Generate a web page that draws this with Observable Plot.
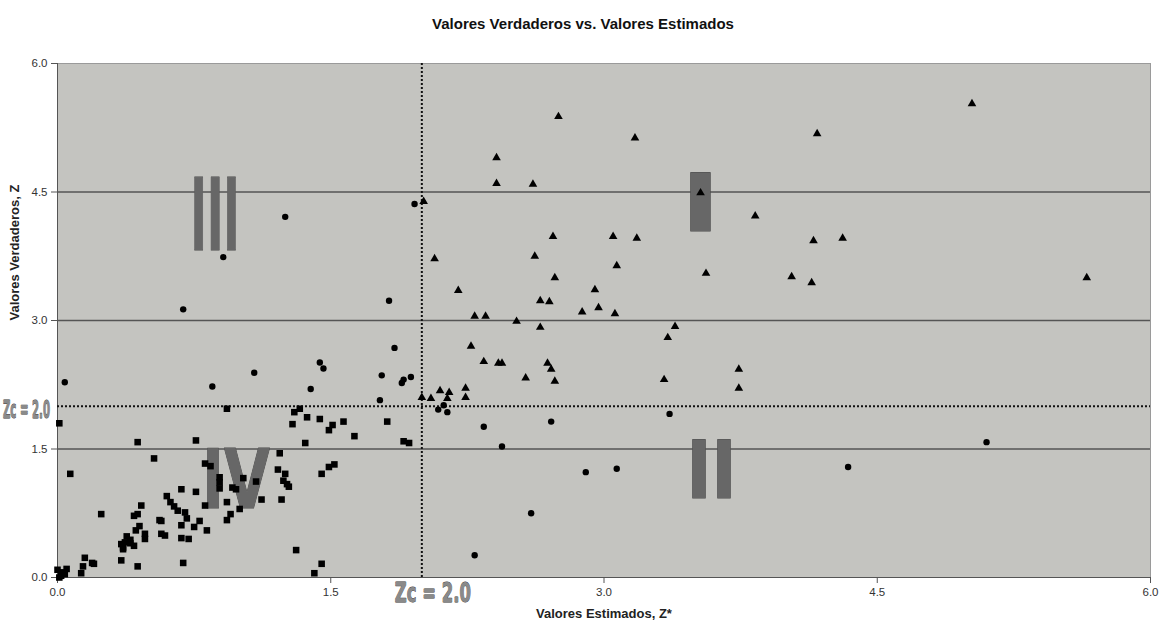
<!DOCTYPE html>
<html>
<head>
<meta charset="utf-8">
<script src="https://cdn.jsdelivr.net/npm/d3@7"></script>
<script src="https://cdn.jsdelivr.net/npm/@observablehq/plot@0.6"></script>
<style>
  body { margin: 0; background: #ffffff; }
  #chart svg { overflow: visible; display: block; }
</style>
</head>
<body>
<div id="chart"></div>
<script>
// ---------- data ----------
const title = "Valores Verdaderos vs. Valores Estimados";
const xTitle = "Valores Estimados, Z*";
const yTitle = "Valores Verdaderos, Z";
const xTicks = [0, 1.5, 3.0, 4.5, 6.0];
const yTicks = [0, 1.5, 3.0, 4.5, 6.0];
const gridY = [1.5, 3.0, 4.5];
const cutoff = 2.0;
const cutoffLabel = "Zc = 2.0";

// squares (series 1)
const squareX = [0.01,0.44,0.76,0.53,0.07,0.24,0.68,0.76,0.60,0.62,0.64,0.66,0.46,0.42,0.44,0.70,0.71,0.56,0.57,0.78,0.68,0.75,0.82,0.45,0.43,0.48,0.48,0.57,0.59,0.68,0.72,0.38,0.40,0.37,0.36,0.35,0.36,0.42,0.40,0.35,0.44,0.69,0.15,0.14,0.13,0.19,0.20,0.00,0.03,0.02,0.05,0.04,0.01,0.81,0.84,0.89,0.89,0.89,0.81,0.93,0.93,0.93,1.30,1.33,1.37,1.29,1.44,1.51,1.49,1.57,1.63,1.36,1.81,1.90,1.93,1.22,1.21,1.25,1.24,1.26,1.27,1.45,1.49,1.52,1.02,1.09,0.96,0.98,1.12,1.23,1.00,0.95,1.31,1.45,1.41];
const squareY = [1.80,1.58,1.60,1.39,1.21,0.74,1.03,1.00,0.95,0.88,0.83,0.78,0.84,0.72,0.74,0.76,0.69,0.67,0.66,0.66,0.61,0.59,0.55,0.60,0.55,0.51,0.45,0.51,0.49,0.46,0.45,0.48,0.44,0.41,0.35,0.39,0.33,0.37,0.40,0.20,0.13,0.17,0.23,0.13,0.05,0.17,0.16,0.09,0.06,0.02,0.10,0.04,0.00,1.33,1.30,1.17,1.11,1.04,0.84,0.88,0.67,1.97,1.93,1.97,1.87,1.79,1.85,1.78,1.72,1.82,1.65,1.57,1.82,1.59,1.57,1.45,1.26,1.21,1.13,1.09,1.06,1.21,1.29,1.32,1.16,1.12,1.05,1.03,0.91,0.91,0.80,0.74,0.32,0.16,0.05];

// circles (series 2)
const circleX = [0.04,0.69,0.91,1.25,0.85,1.08,1.39,1.44,1.46,1.82,1.85,1.78,1.77,1.89,1.90,1.94,1.96,2.09,2.14,2.12,2.34,2.71,2.44,3.36,2.90,3.07,2.60,2.29,4.34,5.10];
const circleY = [2.28,3.13,3.74,4.21,2.23,2.39,2.20,2.51,2.44,3.23,2.68,2.36,2.07,2.27,2.31,2.34,4.36,1.96,1.93,2.01,1.76,1.82,1.53,1.91,1.23,1.27,0.75,0.26,1.29,1.58];

// triangles (series 3)
const triangleX = [2.75,5.02,4.17,3.17,2.41,2.41,2.61,3.53,2.01,3.83,2.72,3.05,3.18,4.15,4.31,2.07,2.62,3.07,2.73,3.56,4.03,4.14,5.65,2.20,2.95,2.65,2.70,2.97,2.88,3.06,2.29,2.35,2.52,2.65,3.39,3.35,2.27,2.34,2.42,2.44,2.69,2.71,3.74,2.57,2.73,3.33,3.74,2.10,2.15,2.24,2.24,2.00,2.05,2.14];
const triangleY = [5.38,5.53,5.18,5.13,4.90,4.60,4.59,4.49,4.39,4.22,3.98,3.98,3.96,3.93,3.96,3.72,3.75,3.64,3.50,3.55,3.51,3.44,3.50,3.35,3.36,3.23,3.22,3.15,3.10,3.08,3.05,3.05,2.99,2.92,2.93,2.80,2.70,2.52,2.50,2.50,2.50,2.43,2.43,2.33,2.29,2.31,2.21,2.18,2.16,2.21,2.10,2.10,2.09,2.09];

// quadrant annotations (anchored in data units: centre x, baseline y)
const quadrantLabels = ["I", "II", "III", "IV"];
const quadrantX = [3.53, 3.59, 0.865, 0.98];
const quadrantY = [4.05, 0.93, 3.82, 0.81];

// ---------- build tables ----------
const squares = squareX.map((x, i) => ({x, y: squareY[i]}));
const circles = circleX.map((x, i) => ({x, y: circleY[i]}));
const triangles = triangleX.map((x, i) => ({x, y: triangleY[i]}));
const quadrants = quadrantLabels.map((label, i) => ({label, x: quadrantX[i], y: quadrantY[i]}));

// styles for the annotation glyphs (font size, stretched length)
const quadStyle = {
  "I":   {fontSize: 81, textLength: 38},
  "II":  {fontSize: 80, textLength: 50},
  "III": {fontSize: 100, textLength: 49},
  "IV":  {fontSize: 82, textLength: 68}
};

const fmt = d3.format(".1f");
const bg = "#c4c4c0";

const chart = Plot.plot({
  width: 1163,
  height: 630,
  marginLeft: 57,
  marginRight: 13,
  marginTop: 63,
  marginBottom: 53,
  style: {
    fontFamily: "'Liberation Sans', Arial, sans-serif",
    fontSize: "11px",
    color: "#333",
    background: "#ffffff",
    overflow: "visible"
  },
  x: {domain: [0, 6]},
  y: {domain: [0, 6]},
  marks: [
    Plot.frame({fill: bg, stroke: "#9a9a9a"}),
    Plot.ruleY(gridY, {stroke: "#555", strokeWidth: 1.3}),
    Plot.ruleX([0], {stroke: "#555"}),
    Plot.ruleY([0], {stroke: "#555"}),
    Plot.axisX({ticks: xTicks, tickFormat: fmt, tickSize: 6, tickPadding: 4, label: null, stroke: "#555", fontSize: 11.5}),
    Plot.axisY({ticks: yTicks, tickFormat: fmt, tickSize: 6, tickPadding: 4, label: null, stroke: "#555", fontSize: 11.5}),
    // quadrant numerals
    Plot.text(quadrants, {
      x: "x", y: "y", text: "label",
      className: "quad",
      lineAnchor: "bottom", textAnchor: "middle",
      fontFamily: "'DejaVu Sans', sans-serif", fontWeight: "bold",
      fontSize: d => quadStyle[d.label].fontSize,
      fill: "#676767", stroke: "#4a4a4a", strokeWidth: 1
    }),
    // cutoff dotted lines
    Plot.ruleX([cutoff], {stroke: "#111", strokeWidth: 2, strokeDasharray: "2,2"}),
    Plot.ruleY([cutoff], {stroke: "#111", strokeWidth: 2, strokeDasharray: "2,2"}),
    // points
    Plot.dot(squares, {x: "x", y: "y", symbol: "square", r: 3.7, fill: "#000", stroke: "none"}),
    Plot.dot(circles, {x: "x", y: "y", symbol: "circle", r: 3.2, fill: "#000", stroke: "none"}),
    Plot.dot(triangles, {x: "x", y: "y", symbol: "triangle", r: 3.2, fill: "#000", stroke: "none"}),
    // Zc labels
    Plot.text([cutoffLabel], {
      x: cutoff, frameAnchor: "bottom", dx: 11, dy: 24,
      lineAnchor: "bottom", textAnchor: "middle", className: "zcb",
      fontFamily: "'DejaVu Sans', sans-serif", fontWeight: "bold", fontSize: 27,
      fill: "#8a8a8a", stroke: "#333", strokeWidth: 0.9
    }),
    Plot.text([cutoffLabel], {
      y: cutoff, frameAnchor: "left", dx: -31, dy: 11.5,
      lineAnchor: "bottom", textAnchor: "middle", className: "zcl",
      fontFamily: "'DejaVu Sans', sans-serif", fontWeight: "bold", fontSize: 25,
      fill: "#8a8a8a", stroke: "#333", strokeWidth: 0.9
    }),
    // titles
    Plot.text([title], {frameAnchor: "top", dx: -21, dy: -45, fontWeight: "bold", fontSize: 15, fill: "#111"}),
    Plot.text([xTitle], {frameAnchor: "bottom", dy: 40, fontWeight: "bold", fontSize: 13, fill: "#222"}),
    Plot.text([yTitle], {frameAnchor: "left", dx: -43, rotate: -90, fontWeight: "bold", fontSize: 13, fill: "#222"})
  ]
});

// stretch / squeeze annotation glyphs to the reference proportions
d3.select(chart).selectAll("g.quad text").each(function(d, i) {
  const label = quadrants[i] ? quadrants[i].label : null;
  const s = quadStyle[d3.select(this).text()] || quadStyle[label];
  if (s) d3.select(this).attr("textLength", s.textLength).attr("lengthAdjust", "spacingAndGlyphs");
});
d3.select(chart).selectAll("g.zcb text").attr("textLength", 76).attr("lengthAdjust", "spacingAndGlyphs");
d3.select(chart).selectAll("g.zcl text").attr("textLength", 47).attr("lengthAdjust", "spacingAndGlyphs");

document.getElementById("chart").appendChild(chart);
</script>
</body>
</html>
